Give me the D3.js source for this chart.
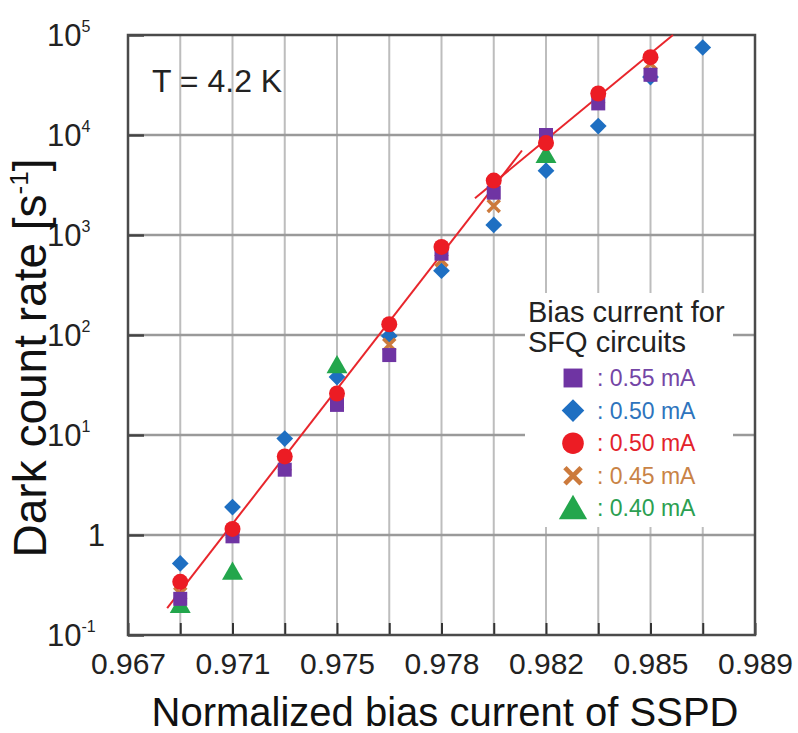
<!DOCTYPE html>
<html>
<head>
<meta charset="utf-8">
<script src="https://cdn.jsdelivr.net/npm/d3@7"></script>
<style>
  body { margin: 0; background: #fff; }
  text { font-family: "Liberation Sans", Arial, sans-serif; }
</style>
</head>
<body>
<svg id="chart" width="798" height="733"></svg>
<script>
// gridlines on the bias axis (not evenly spaced in value)
var xTicks = [0.967, 0.969, 0.971, 0.973, 0.975, 0.9765, 0.978, 0.980, 0.982, 0.9835, 0.985, 0.987, 0.989]
var xLabels = ["0.967", "", "0.971", "", "0.975", "", "0.978", "", "0.982", "", "0.985", "", "0.989"]
var yTicks = [0.1, 1, 10, 100, 1000, 10000, 100000]
var yLabels = [["10", "-1"], ["1", ""], ["10", "1"], ["10", "2"], ["10", "3"], ["10", "4"], ["10", "5"]]

var bias = [0.969, 0.971, 0.973, 0.975, 0.9765, 0.978, 0.980, 0.982, 0.9835, 0.985, 0.987]
var sq055 = [0.23, 0.97, 4.5, 20, 63, 650, 2650, 10000, 20700, 40000, null]
var dia050 = [0.52, 1.9, 9.2, 38, 98, 440, 1260, 4400, 12300, 38000, 75000]
var cir050 = [0.34, 1.15, 6.1, 26, 128, 760, 3500, 8300, 26000, 60000, null]
var x045 = [0.26, 1.05, 5.0, 21, 80, 560, 1950, 9000, 23500, 52000, null]
var tri040 = [0.20, 0.43, null, 50, null, null, null, 6300, null, null, null]

var fitLow = [[0.9685, 0.186], [0.98108, 7000]]
var fitHigh = [[0.97928, 2330], [0.98586, 100000]]

var series = [
  {name: ": 0.55 mA", values: sq055, shape: "square", color: "#6f34a3", text: "#7446a6"},
  {name: ": 0.50 mA", values: dia050, shape: "diamond", color: "#1e6fc2", text: "#2e74bd"},
  {name: ": 0.50 mA", values: cir050, shape: "circle", color: "#ec1c24", text: "#e3222b"},
  {name: ": 0.45 mA", values: x045, shape: "x", color: "#cc7a3c", text: "#c98346"},
  {name: ": 0.40 mA", values: tri040, shape: "triangle", color: "#23a64c", text: "#2c9f52"}
]
// drawing order: circles last so they sit on top
var drawOrder = [1, 4, 3, 0, 2]

function draw() {
  var mLeft = 128, mTop = 35, width = 627, height = 600
  var svg = d3.select("#chart")
  var g = svg.append("g").attr("transform", "translate(" + mLeft + "," + mTop + ")")

  var x = d3.scaleLinear()
    .domain(xTicks)
    .range(xTicks.map(function(d, i) { return i * width / (xTicks.length - 1) }))
  var y = d3.scaleLog().domain([0.1, 100000]).range([height, 0])

  // grid
  g.append("g").selectAll("line").data(xTicks.slice(1, -1)).enter().append("line")
    .attr("x1", x).attr("x2", x).attr("y1", 0).attr("y2", height)
    .attr("stroke", "#bdbdbd").attr("stroke-width", 2)
  g.append("g").selectAll("line").data(yTicks.slice(1, -1)).enter().append("line")
    .attr("x1", 0).attr("x2", width).attr("y1", y).attr("y2", y)
    .attr("stroke", "#9a9a9a").attr("stroke-width", 2.5)

  // tick marks inside the frame
  var xAxis = d3.axisBottom(x).tickValues(xTicks).tickSize(-12)
    .tickFormat(function(d, i) { return xLabels[i] }).tickPadding(18)
  var gx = g.append("g").attr("transform", "translate(0," + height + ")").call(xAxis)
  gx.select(".domain").remove()
  gx.selectAll(".tick line").attr("stroke", "#333").attr("stroke-width", 2)
  gx.selectAll(".tick text").attr("font-size", 30).attr("fill", "#222")
    .attr("font-family", "Liberation Sans, Arial, sans-serif")

  var yAxis = d3.axisLeft(y).tickValues(yTicks).tickSize(-16).tickFormat("")
  var gy = g.append("g").call(yAxis)
  gy.select(".domain").remove()
  gy.selectAll(".tick line").attr("stroke", "#444").attr("stroke-width", 2.5)

  // y labels: "10" with a small exponent, or plain "1"
  var yl = g.append("g").selectAll("text").data(yTicks).enter().append("text")
    .attr("y", function(d) { return y(d) + 11 })
    .attr("x", function(d, i) { return yLabels[i][1] ? -81 : -23 })
    .attr("text-anchor", function(d, i) { return yLabels[i][1] ? "start" : "end" })
    .attr("font-size", 31).attr("fill", "#222")
  yl.append("tspan").text(function(d, i) { return yLabels[i][0] })
  yl.append("tspan").attr("font-size", 16).attr("dy", -14)
    .text(function(d, i) { return yLabels[i][1] })

  // white box behind the legend
  g.append("rect").attr("x", 525 - mLeft).attr("y", 293 - mTop)
    .attr("width", 208).attr("height", 234).attr("fill", "#fff")

  // frame
  g.append("rect").attr("width", width).attr("height", height)
    .attr("fill", "none").attr("stroke", "#4a4a4a").attr("stroke-width", 2.5)

  // fitted lines
  var line = d3.line().x(function(d) { return x(d[0]) }).y(function(d) { return y(d[1]) })
  ;[fitLow, fitHigh].forEach(function(f) {
    g.append("path").attr("d", line(f)).attr("fill", "none")
      .attr("stroke", "#e8262c").attr("stroke-width", 2)
  })

  drawOrder.forEach(function(k) {
    var sr = series[k]
    var pts = bias.map(function(b, i) { return [b, sr.values[i]] })
      .filter(function(p) { return p[1] != null })
    g.append("g").selectAll("g").data(pts).enter().append("g")
      .attr("transform", function(p) { return "translate(" + x(p[0]) + "," + y(p[1]) + ")" })
      .each(function() { marker(d3.select(this), sr.shape, sr.color) })
  })

  // legend
  var lg = svg.append("g")
  lg.append("text").attr("x", 528).attr("y", 322).attr("font-size", 29).attr("fill", "#222")
    .text("Bias current for")
  lg.append("text").attr("x", 528).attr("y", 352).attr("font-size", 29).attr("fill", "#222")
    .text("SFQ circuits")
  series.forEach(function(sr, i) {
    var cy = 378 + i * 32.6
    var m = lg.append("g").attr("transform", "translate(573," + cy + ")")
    marker(m, sr.shape, sr.color, 1.35)
    lg.append("text").attr("x", 597).attr("y", cy + 8).attr("font-size", 23)
      .attr("fill", sr.text).text(sr.name)
  })

  svg.append("text").attr("x", 152).attr("y", 92).attr("font-size", 32).attr("fill", "#222")
    .text("T = 4.2 K")

  // axis titles
  svg.append("text").attr("x", 445).attr("y", 726).attr("text-anchor", "middle")
    .attr("font-size", 40).attr("fill", "#111").text("Normalized bias current of SSPD")
  var yt = svg.append("text").attr("transform", "translate(46,358) rotate(-90)")
    .attr("text-anchor", "middle").attr("font-size", 46).attr("fill", "#111")
  yt.append("tspan").text("Dark count rate [s")
  yt.append("tspan").attr("font-size", 26).attr("dy", -18).text("-1")
  yt.append("tspan").attr("dy", 18).text("]")
}

function marker(sel, shape, color, scale) {
  var s = scale || 1
  if (shape == "square") {
    sel.append("rect").attr("x", -7 * s).attr("y", -7 * s).attr("width", 14 * s).attr("height", 14 * s)
      .attr("fill", color)
  } else if (shape == "diamond") {
    sel.append("path").attr("d", d3.symbol(d3.symbolSquare, 140 * s * s)())
      .attr("transform", "rotate(45)").attr("fill", color)
  } else if (shape == "circle") {
    sel.append("circle").attr("r", 8 * s).attr("fill", color)
  } else if (shape == "x") {
    sel.append("path").attr("d", "M" + (-6 * s) + "," + (-6 * s) + "L" + (6 * s) + "," + (6 * s) +
      "M" + (6 * s) + "," + (-6 * s) + "L" + (-6 * s) + "," + (6 * s))
      .attr("stroke", color).attr("stroke-width", 3.5 * s).attr("fill", "none")
  } else {
    sel.append("path").attr("d", d3.symbol(d3.symbolTriangle, 190 * s * s)())
      .attr("transform", "translate(0," + 2 * s + ")").attr("fill", color)
  }
}

draw()
</script>
</body>
</html>
